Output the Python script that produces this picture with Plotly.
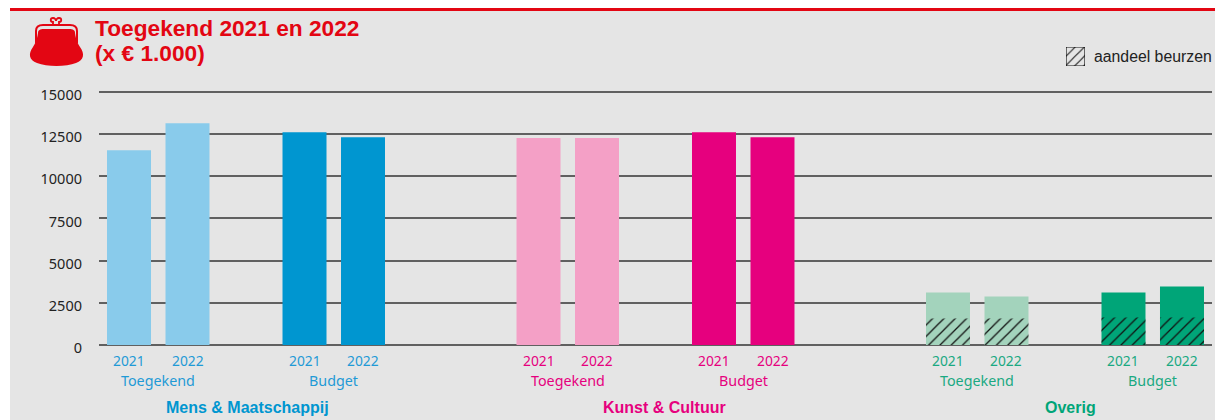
import plotly.graph_objects as go

PAGE_W, PAGE_H = 1223, 420
PAGE_MARGIN = 8  # the page's body margin offsets the figure
W, H = PAGE_W - PAGE_MARGIN, PAGE_H - PAGE_MARGIN
groups = ["Mens & Maatschappij", "Kunst & Cultuur", "Overig"]
kinds = ["Toegekend", "Budget"]
years = ["2021", "2022"]
y_ticks = [0, 2500, 5000, 7500, 10000, 12500, 15000]

mens_toegekend = [11550, 13150]
mens_budget = [12620, 12320]
kunst_toegekend = [12270, 12280]
kunst_budget = [12620, 12320]
overig_toegekend = [3120, 2880]
overig_budget = [3120, 3475]
beurzen_toegekend = [1570, 1570]
beurzen_budget = [1630, 1630]

series = {
    ("Mens & Maatschappij", "Toegekend"): mens_toegekend,
    ("Mens & Maatschappij", "Budget"): mens_budget,
    ("Kunst & Cultuur", "Toegekend"): kunst_toegekend,
    ("Kunst & Cultuur", "Budget"): kunst_budget,
    ("Overig", "Toegekend"): overig_toegekend,
    ("Overig", "Budget"): overig_budget,
}
beurzen = {"Toegekend": beurzen_toegekend, "Budget": beurzen_budget}

colors = {
    "Mens & Maatschappij": {"Toegekend": "#89cbeb", "Budget": "#0096d0", "text": "#1f9ad6", "title": "#0096d0"},
    "Kunst & Cultuur": {"Toegekend": "#f4a0c6", "Budget": "#e6007e", "text": "#e6007e", "title": "#e6007e"},
    "Overig": {"Toegekend": "#a3d3bc", "Budget": "#00a578", "text": "#1aa982", "title": "#00a578"},
}
title_shift = {"Mens & Maatschappij": 1.5, "Kunst & Cultuur": 8.5, "Overig": 6}

# category order with blank spacer slots between pairs and groups
order = []
for gi, g in enumerate(groups):
    for ki, k in enumerate(kinds):
        for yr in years:
            order.append(f"{g}|{k}|{yr}")
        if ki == 0:
            order.append(f"sp{gi}a")
    if gi < len(groups) - 1:
        order += [f"sp{gi}b", f"sp{gi}c"]
idx = {c: i for i, c in enumerate(order)}

# page-pixel frame of the plot area
Y_MAX = 15200
PL, PR, PT, PB = 99, 1212, 40, 345
plot_w, plot_h = PR - PL, PB - PT
main_top = (PB - 92 + 253 * (Y_MAX - 15000) / 15000) / plot_h
px = lambda x: (x - PL) / plot_w
py = lambda y: (PB - y) / plot_h

fig = go.Figure()
annotations = []
HATCH = dict(shape="/", fgcolor="#111111", bgcolor="rgba(0,0,0,0)", fgopacity=1, size=8, solidity=0.16)

for (g, k), vals in series.items():
    cats = [f"{g}|{k}|{yr}" for yr in years]
    fig.add_trace(go.Bar(x=cats, y=vals, width=0.752, marker=dict(color=colors[g][k], line_width=0),
                         showlegend=False))
    if g == "Overig":
        fig.add_trace(go.Bar(x=cats, y=beurzen[k], width=0.752,
                             marker=dict(color="rgba(0,0,0,0)", line_width=0, pattern=HATCH),
                             showlegend=False))
    for c, yr in zip(cats, years):
        annotations.append(dict(x=idx[c], y=360.5, text=yr, xref="x", yref="paper",
                                font=dict(family="Noto Sans", size=13.8, color=colors[g]["text"])))
    annotations.append(dict(x=(idx[cats[0]] + idx[cats[1]]) / 2, y=380.5, text=k, xref="x", yref="paper",
                            font=dict(family="Noto Sans", size=14.3, color=colors[g]["text"])))
for g in groups:
    first, last = idx[f"{g}|Toegekend|2021"], idx[f"{g}|Budget|2022"]
    annotations.append(dict(x=(first + last) / 2, y=407.5, text=f"<b>{g}</b>", xref="x", yref="paper",
                            xshift=title_shift[g],
                            font=dict(family="Liberation Sans", size=16, color=colors[g]["title"])))

for a in annotations:
    a["y"] = py(a["y"])
    a.update(showarrow=False, xanchor="center", yanchor="middle")

# legend swatch: a small hatched bar on its own axes
fig.add_trace(go.Bar(x=["aandeel beurzen"], y=[1], xaxis="x2", yaxis="y2", width=1,
                     marker=dict(color="rgba(0,0,0,0)", line=dict(color="#111111", width=1.2),
                                 pattern=dict(shape="/", fgcolor="#111111", bgcolor="rgba(0,0,0,0)",
                                              fgopacity=1, size=6.5, solidity=0.16)),
                     showlegend=False))

RED = "#e30613"
for text, ypos in [("Toegekend 2021 en 2022", 28), ("(x € 1.000)", 53)]:
    annotations.append(dict(x=px(93), y=py(ypos), text=f"<b>{text}</b>", xref="paper", yref="paper",
                            showarrow=False, xanchor="left", yanchor="middle",
                            font=dict(family="Liberation Sans", size=22.7, color=RED)))
annotations.append(dict(x=px(1092), y=py(56), text="aandeel beurzen", xref="paper", yref="paper",
                        showarrow=False, xanchor="left", yanchor="middle",
                        font=dict(family="Liberation Sans", size=15.8, color="#222222")))

anchor = dict(xref="paper", yref="paper", xsizemode="pixel", ysizemode="pixel",
              xanchor=px(0), yanchor=py(0))


def purse(d):
    # page pixels (y down) to pixel-sized shape offsets (y up)
    out = []
    for tok in d.split():
        if "," in tok:
            x, y = tok.split(",")
            out.append(f"{x},{-float(y)}")
        else:
            out.append(tok)
    return dict(type="path", path=" ".join(out), layer="above", **anchor)


shapes = [
    dict(type="rect", xref="paper", yref="paper", x0=px(0), x1=px(10), y0=py(0), y1=py(PAGE_H),
         fillcolor="white", line_width=0, layer="below"),
    dict(type="rect", xref="paper", yref="paper", x0=px(10), x1=px(PAGE_W), y0=py(8), y1=py(11),
         fillcolor=RED, line_width=0, layer="above"),
    dict(purse("M 38,33 C 38,30 40,29 44,29 L 69,29 C 73,29 75,30 75,33 C 76,40 78,44 80,47 "
               "C 85,54 84,60 76,63 C 66,67 47,67 37,63 C 29,60 28,54 33,47 C 35,44 37,40 38,33 Z"),
         fillcolor=RED, line_width=0),
    dict(purse("M 36,43 L 36,31 C 36,27 39,25 43,25 L 70,25 C 74,25 77,27 77,31 L 77,43"),
         line=dict(color=RED, width=2)),
    dict(purse("M 53,24 L 53,22 C 50,22 50,18 53,18 C 55,18 56,20 56,21 C 56,20 57,18 59,18 "
               "C 62,18 62,22 59,22 L 59,24"),
         line=dict(color=RED, width=1.8)),
]

fig.update_layout(
    width=W, height=H, autosize=False,
    margin=dict(l=PL - PAGE_MARGIN, r=PAGE_W - PR, t=PT - PAGE_MARGIN, b=PAGE_H - PB, pad=0),
    paper_bgcolor="#e5e5e5", plot_bgcolor="rgba(0,0,0,0)",
    barmode="overlay", showlegend=False,
    xaxis=dict(type="category", categoryorder="array", categoryarray=order,
               range=[-0.513, len(order) - 1 + 0.513], showticklabels=False, showgrid=False,
               zeroline=False, showline=False, ticks="", domain=[0, 1]),
    yaxis=dict(domain=[0, main_top], range=[0, Y_MAX], tickvals=y_ticks, ticktext=[str(t) for t in y_ticks],
               showgrid=True, gridcolor="#606060", gridwidth=1.6, zeroline=True, zerolinecolor="#606060",
               zerolinewidth=1.6, showline=False, ticks="", ticklabelstandoff=16, ticklabelshift=3,
               tickfont=dict(family="Noto Sans", size=14.5, color="#222222")),
    xaxis2=dict(domain=[px(1066), px(1085)], anchor="y2", visible=False, range=[-0.5, 0.5]),
    yaxis2=dict(domain=[py(66), py(47)], anchor="x2", visible=False, range=[0, 1]),
    annotations=annotations, shapes=shapes,
)
fig.write_html("out.html")
